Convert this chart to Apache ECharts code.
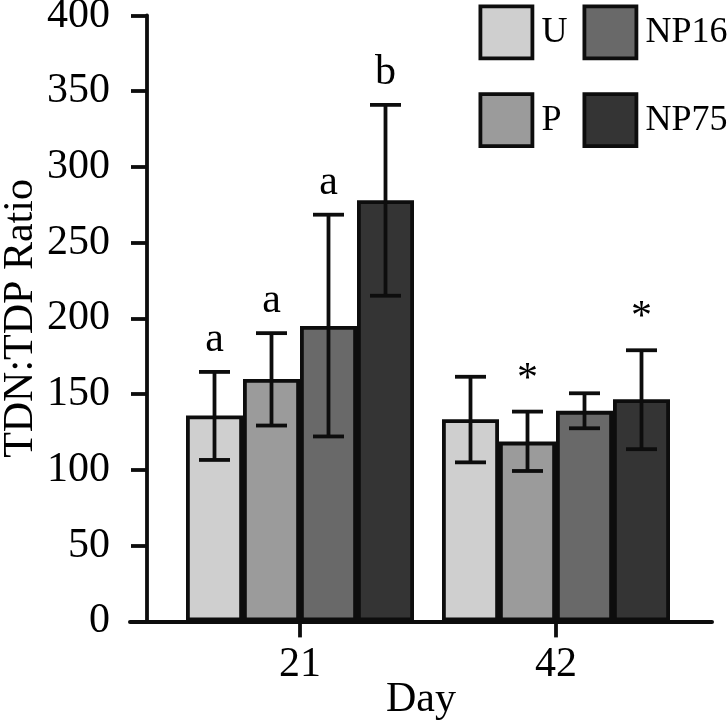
<!DOCTYPE html>
<html>
<head>
<meta charset="utf-8">
<script src="https://cdn.jsdelivr.net/npm/echarts@6/dist/echarts.min.js"></script>
<style>
html,body{margin:0;padding:0;background:#fff;}
#chart{width:728px;height:726px;}
</style>
</head>
<body>
<div id="chart"></div>
<script>
// ---- data ----
const days = [21, 42];
const treatments = ['U', 'P', 'NP16', 'NP75'];
const meanU = [136, 133.5];
const meanP = [160, 118.7];
const meanNP16 = [195, 139];
const meanNP75 = [278, 146.7];
const hiU = [164.7, 161.5];
const hiP = [190.3, 138.5];
const hiNP16 = [268.5, 150.6];
const hiNP75 = [341, 179];
const loU = [106.6, 105];
const loP = [129.3, 99.3];
const loNP16 = [122.1, 127.5];
const loNP75 = [215, 113.7];
const sigU = ['a', ''];
const sigP = ['a', '*'];
const sigNP16 = ['a', ''];
const sigNP75 = ['b', '*'];
const yTicks = [0, 50, 100, 150, 200, 250, 300, 350, 400];

const means = [meanU, meanP, meanNP16, meanNP75];
const his = [hiU, hiP, hiNP16, hiNP75];
const los = [loU, loP, loNP16, loNP75];
const sigs = [sigU, sigP, sigNP16, sigNP75];
const colors = ['#cfcfcf', '#9b9b9b', '#696969', '#343434'];

// ---- style constants ----
const FONT = 'Liberation Serif';
const BAR_W = 57;
const CAP_W = 31;
const LW = 3.8;
const INK = '#0d0d0d';

const chart = echarts.init(document.getElementById('chart'), null, {renderer: 'canvas'});

const barSeries = treatments.map((t, k) => ({
  type: 'bar',
  name: t,
  barWidth: BAR_W,
  barGap: '0%',
  data: days.map((d, i) => [d, means[k][i]]),
  itemStyle: {color: colors[k], borderColor: INK, borderWidth: LW},
  emphasis: {disabled: true},
  z: 2
}));

const errSeries = treatments.map((t, k) => ({
  type: 'custom',
  name: 'err-' + t,
  data: days.map((d, i) => [d, los[k][i], his[k][i]]),
  encode: {x: 0, y: [1, 2]},
  z: 10,
  silent: true,
  renderItem: function (params, api) {
    const x = api.value(0);
    const pHi = api.coord([x, api.value(2)]);
    const pLo = api.coord([x, api.value(1)]);
    const cx = pHi[0] + (k - 1.5) * BAR_W;
    const lab = sigs[k][params.dataIndex];
    const lineStyle = {stroke: INK, lineWidth: LW};
    const children = [
      {type: 'line', shape: {x1: cx, y1: pHi[1], x2: cx, y2: pLo[1]}, style: lineStyle},
      {type: 'line', shape: {x1: cx - CAP_W / 2, y1: pHi[1], x2: cx + CAP_W / 2, y2: pHi[1]}, style: lineStyle},
      {type: 'line', shape: {x1: cx - CAP_W / 2, y1: pLo[1], x2: cx + CAP_W / 2, y2: pLo[1]}, style: lineStyle}
    ];
    if (lab) {
      children.push({
        type: 'text',
        style: {
          text: lab, x: cx, y: pHi[1] - 11,
          align: 'center', verticalAlign: 'bottom',
          font: '42px "' + FONT + '"', fill: '#000'
        }
      });
    }
    return {type: 'group', children: children};
  }
}));

const legendBase = {
  orient: 'vertical', top: 4.5, padding: 0,
  itemWidth: 52, itemHeight: 52, itemGap: 32, icon: 'rect', selectedMode: false,
  itemStyle: {borderColor: INK, borderWidth: LW},
  textStyle: {fontFamily: FONT, fontSize: 36, color: '#000', padding: [0, 0, 0, 4]}
};

const option = {
  animation: false,
  backgroundColor: '#fff',
  textStyle: {fontFamily: FONT},
  grid: {left: 130, right: 16, top: 15.5, bottom: 104.6, containLabel: false, outerBoundsMode: 'none'},
  legend: [
    Object.assign({}, legendBase, {data: ['U', 'P'], left: 478.5}),
    Object.assign({}, legendBase, {data: ['NP16', 'NP75'], left: 582.5})
  ],
  xAxis: {
    type: 'value',
    min: 21 - 170 / (256 / 21),
    max: 42 + 156 / (256 / 21),
    name: 'Day',
    nameLocation: 'middle',
    nameGap: 58,
    nameMoveOverlap: false,
    nameTextStyle: {fontFamily: FONT, fontSize: 42, color: '#000'},
    axisLine: {show: true, onZero: false, lineStyle: {color: INK, width: 4}},
    axisTick: {show: true, inside: false, length: 16, customValues: days, lineStyle: {color: INK, width: LW}},
    axisLabel: {customValues: days, margin: 23, fontFamily: FONT, fontSize: 42, color: '#000'},
    splitLine: {show: false}
  },
  yAxis: {
    type: 'value',
    min: 0, max: 400, interval: 50,
    offset: -17,
    name: 'TDN:TDP Ratio',
    nameLocation: 'middle',
    nameGap: 105,
    nameMoveOverlap: false,
    nameTextStyle: {fontFamily: FONT, fontSize: 42, color: '#000'},
    axisLine: {show: true, lineStyle: {color: INK, width: LW}},
    axisTick: {show: true, inside: false, length: 16, lineStyle: {color: INK, width: LW}},
    axisLabel: {margin: 37, fontFamily: FONT, fontSize: 42, color: '#000',
      formatter: function (v) { return yTicks.indexOf(v) >= 0 ? String(v) : ''; }},
    splitLine: {show: false}
  },
  series: barSeries.concat(errSeries)
};

chart.setOption(option);
</script>
</body>
</html>
